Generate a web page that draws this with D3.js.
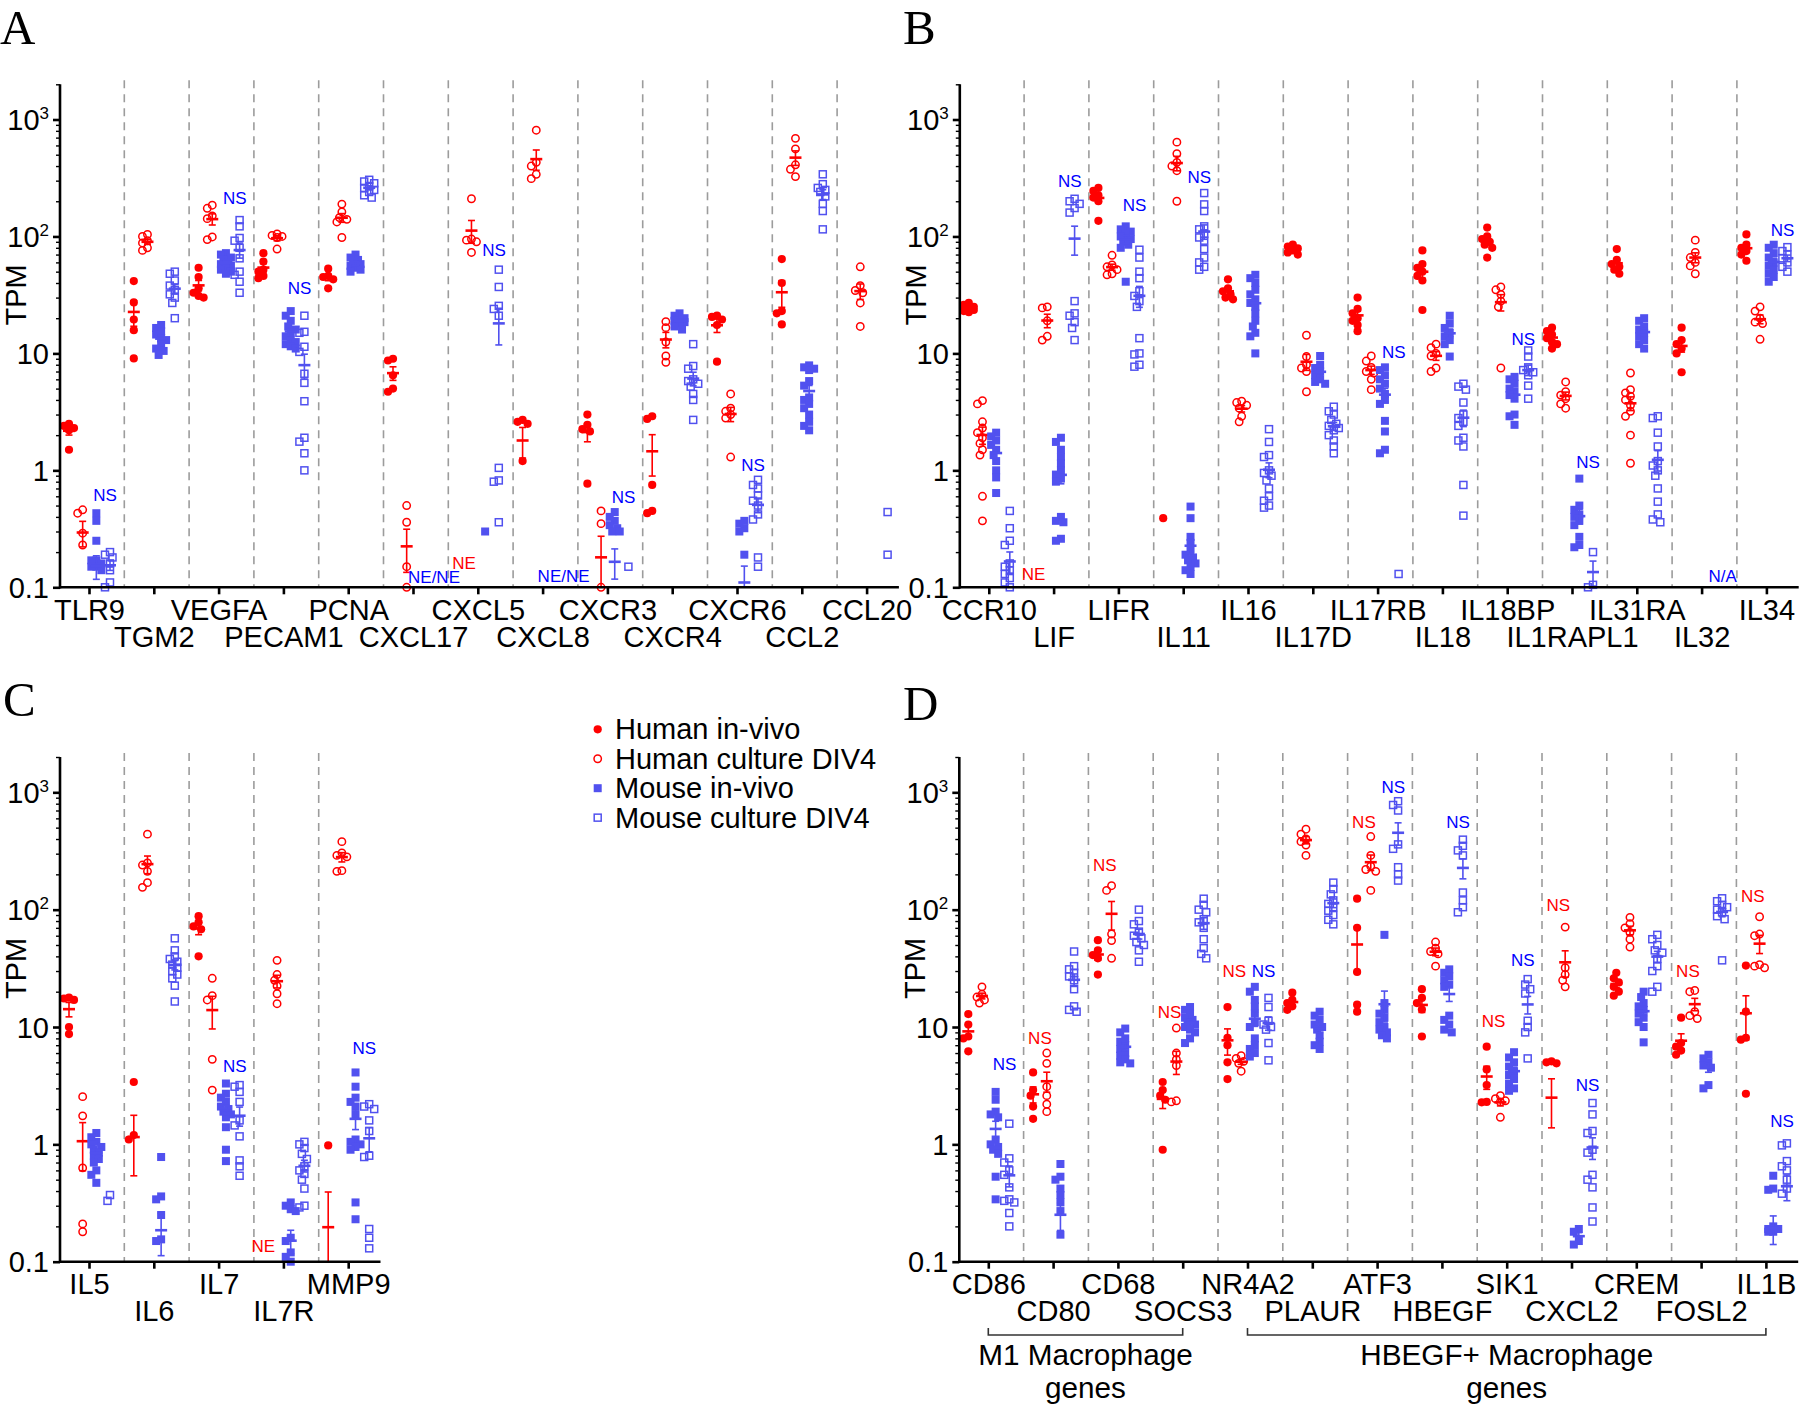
<!DOCTYPE html>
<html><head><meta charset="utf-8">
<script src="https://cdn.jsdelivr.net/npm/d3@7"></script>
<style>
body{margin:0;background:#fff}
svg{display:block}
text{font-family:"Liberation Sans",Arial,sans-serif}
</style>
</head><body>
<svg id="c" width="1800" height="1408"></svg>
<script>
// ---------------- DATA ----------------
const catsA = ["TLR9","TGM2","VEGFA","PECAM1","PCNA","CXCL17","CXCL5","CXCL8","CXCR3","CXCR4","CXCR6","CCL2","CCL20"];
const hivA = [[2.5,2.4,2.3,2.2,1.5],[41.5,27.3,19.5,15.8,9.05],[54,45,36,33,31,30],[72,61,52,50,46,44],[53,46,45,43,36],[9,8.7,6.5,5,4.7],[],[2.7,2.6,2.5,1.2,0.001],[3.0,2.45,2.25,2.15,0.77],[2.9,2.75,0.75,0.45,0.43],[21,20.5,19.5,17.5,8.5],[64,40,23,22,17.7],[]];
const hcA = [[0.46,0.43,0.29,0.23,0.06],[104,100,92,88,80,76],[185,174,150,142,99,94],[105,102,100,98,78],[189,162,145,140,133,98],[0.5,0.36,0.15,0.1,0.01],[210,95,93,90,73],[810,430,400,340,312],[0.45,0.35,0.1,0.001,0.001],[18.7,16.6,12.5,9.5,8.4],[4.5,3.4,3.2,3.0,2.8,1.3],[690,560,410,375,325],[55,38,34.5,33,27,17]];
const mivA = [[0.43,0.37,0.25,0.17,0.17,0.16,0.15,0.15,0.14,0.05,0.03,0.02,0.02,0.01],[17.5,16.5,15.5,14.5,13.5,13,12,11,10.5,9.7],[72,70,66,63,60,58,56,54,52,50,48],[23,21,19,17,16,15,14,13,12.5,12,11.5,11],[70,66,63,60,58,56,54,52,50],[],[0.3],[],[0.44,0.4,0.37,0.34,0.32,0.3,0.3,0.001,0.001,0.001,0.001,0.001,0.001,0.001,0.001],[22,21,20,19.5,19,18.5,18,17,16],[0.37,0.35,0.32,0.3,0.19,0.001,0.001,0.001,0.001,0.001,0.001,0.001,0.001,0.001],[7.9,7.6,7.4,7.2,5.8,5.3,4.2,4.0,3.7,3.4,3.0,2.6,2.4,2.2],[]];
const mcA = [[0.2,0.19,0.18,0.16,0.14,0.11,0.1],[50,48,42,38,35,32,30,27,20],[138,122,97,92,80,65,50,47,41,33],[21,15.3,15,11.4,10.3,6.7,5.6,3.9,1.9,1.76,1.4,1.0],[305,295,285,270,260,250,240,225,215],[],[52,37,25.5,24,21,1.05,0.82,0.8,0.36],[],[0.15],[12,7.8,7.4,6,5.8,5.5,5.2,4.5,4,2.7],[0.83,0.75,0.7,0.61,0.55,0.5,0.42,0.38,0.18,0.15],[340,280,260,250,240,220,190,165,115],[0.44,0.19]];
const nsA = [{cat:"TLR9",side:"mouse",at:0.61},{cat:"VEGFA",side:"mouse",at:211},{cat:"PECAM1",side:"mouse",at:36},{cat:"CXCL5",side:"mouse",at:76},{cat:"CXCR3",side:"mouse",at:0.59},{cat:"CXCR6",side:"mouse",at:1.1}];
const notesA = [{cat:"CXCL17",group:3,text:"NE/NE",side:"mouse",at:0.122},{cat:"CXCL5",group:0.45,text:"NE",side:"human",at:0.16},{cat:"CXCL8",group:3,text:"NE/NE",side:"mouse",at:0.125}];

const catsB = ["CCR10","LIF","LIFR","IL11","IL16","IL17D","IL17RB","IL18","IL18BP","IL1RAPL1","IL31RA","IL32","IL34"];
const hivB = [[27,26,25,24.5,24,23.5,23,22.5],[],[260,245,225,215,200,136],[0.39],[43,36,34,32,30,29],[85,82,79,76,73,70],[30,24,22,20,19,17.5,15.5],[76,58,54,50,46,42,23.5],[119,100,95,90,85,80,66],[16.6,15.5,14.5,13.5,12.5,12,11],[78,63,58,55,52,48],[16.6,13,12,11,10,6.9],[104,85,80,75,70,62]];
const hcB = [[3.95,3.7,2.6,2.3,2.1,1.9,1.7,1.5,1.35,0.6,0.37],[25,24.5,19,14,13],[69,57,55,52,48,47],[640,510,430,400,365,200],[3.9,3.8,3.6,3.4,2.9,2.6],[14.3,9.4,8,7.5,7,4.7],[9.5,8.6,7.6,7.0,6.8,6.0,4.9],[12,11.2,10,9.5,7.5,7],[37,35,32,28,25,7.5],[5.7,4.7,4.4,4.1,3.7,3.4],[6.8,4.9,4.6,4.3,4.0,3.6,3.2,2.9,2.0,1.15],[93,73,66,60,56,48],[25,23,20,18.5,18,13.2]];
const mivB = [[2.1,1.95,1.8,1.65,1.5,1.35,1.2,1.0,0.87,0.64],[1.9,1.75,1.5,1.3,1.15,1.0,0.92,0.85,0.8,0.4,0.37,0.36,0.26,0.25],[122,115,110,105,100,95,90,85,80,41],[0.49,0.39,0.27,0.24,0.21,0.19,0.18,0.17,0.16,0.15,0.14,0.13],[47,44,40,35,32,29,27,25,22,19,17,15,14,10],[9.5,8,7.5,7,6.5,6,5.7,5.5],[7.6,7.2,6.5,6,5.5,5,4.5,4,3.7,2.65,2.15,1.5,1.4],[21,18,16.5,15,14,13,12,9.4],[6.3,6,5.5,5,4.7,4.4,4.1,3.0,2.9,2.45],[0.85,0.5,0.46,0.42,0.4,0.37,0.34,0.27,0.23,0.22],[20,19,17,16,15,14,13,12,11],[],[85,80,72,66,60,56,52,48,45,41]];
const mcB = [[0.45,0.32,0.25,0.23,0.16,0.15,0.14,0.13,0.12,0.11,0.1,0.001,0.001],[210,200,190,175,160,28,22,21,18.5,16.5,13],[77,66,50,44,34,31,28,25,13.5,10,9.8,8,7.7],[235,188,165,122,115,105,98,92,78,66,60,55,52],[2.25,1.75,1.35,1.3,1.0,0.95,0.9,0.82,0.7,0.6,0.55,0.5,0.48],[3.5,3.2,3.0,2.7,2.5,2.4,2.3,2.2,2.0,1.8,1.6,1.4],[0.13],[5.5,5.2,4.9,3.8,3.0,2.8,2.6,2.4,1.9,1.8,1.6,0.75,0.41],[10.6,9.4,7.6,7.2,6.9,6.5,5.3,4.1],[0.2,0.105,0.1],[2.9,2.8,2.1,1.6,1.2,1.1,1.0,0.9,0.7,0.54,0.42,0.38,0.36],[],[81,75,70,65,60,55,50]];
const nsB = [{cat:"LIF",side:"mouse",at:299},{cat:"LIFR",side:"mouse",at:184},{cat:"IL11",side:"mouse",at:324},{cat:"IL17RB",side:"mouse",at:10.3},{cat:"IL18BP",side:"mouse",at:13.2},{cat:"IL1RAPL1",side:"mouse",at:1.17},{cat:"IL34",side:"mouse",at:114}];
const notesB = [{cat:"LIF",group:0,text:"NE",side:"human",at:0.13},{cat:"IL32",group:3,text:"N/A",side:"mouse",at:0.126}];

const catsC = ["IL5","IL6","IL7","IL7R","MMP9"];
const hivC = [[17.8,17.5,17,10,8.7],[3.4,1.2,1.1,0.05,0.02],[88,78,72,68,40],[],[0.98,0.001,0.001,0.001,0.001]];
const hcC = [[2.55,1.75,0.63,0.21,0.18],[440,250,240,212,170,155],[26,18.5,17,5.3,2.9],[37,28,25,22.4,19.2,15.8],[380,305,290,282,215,212]];
const mivC = [[1.25,1.15,1.05,1.0,0.95,0.9,0.85,0.8,0.75,0.7,0.6,0.55,0.47],[0.78,0.36,0.34,0.25,0.155,0.15,0.001,0.001,0.001,0.001,0.001],[3.3,2.7,2.5,2.3,2.1,2.0,1.9,1.8,1.7,1.4,0.9,0.72],[0.32,0.3,0.28,0.27,0.16,0.15,0.12,0.11,0.1,0.001,0.001,0.001],[4.1,3.1,2.5,2.3,2.1,1.8,1.1,1.05,1.0,0.95,0.9,0.32,0.23]];
const mcC = [[0.37,0.33],[57,45,40,38,36,34,32,30,28,26,22.5,16.5],[3.2,3.1,2.8,2.3,1.6,1.45,1.17,0.73,0.65,0.54],[1.05,1.0,0.93,0.83,0.75,0.65,0.6,0.56,0.5,0.42,0.3,0.29],[2.2,2.1,2.0,1.6,1.3,0.8,0.78,0.19,0.16,0.13]];
const nsC = [{cat:"IL7",side:"mouse",at:4.67},{cat:"MMP9",side:"mouse",at:6.6}];
const notesC = [{cat:"IL7R",group:0,text:"NE",side:"human",at:0.135}];

const catsD = ["CD86","CD80","CD68","SOCS3","NR4A2","PLAUR","ATF3","HBEGF","SIK1","CXCL2","CREM","FOSL2","IL1B"];
const hivD = [[12.9,10.5,8.3,8.0,6.2],[4.1,2.9,2.6,2.1,1.65],[55,45,41,38.5,28],[3.4,2.9,2.6,2.4,0.9],[14.8,8.1,7,5,3.6],[19.6,17,16,15,14],[124,70,29.5,15.5,13.5],[21,17.7,16,14.1,8.3],[6.8,4.35,3.2,2.3,2.28],[5.1,5.0,4.9,0.001,0.001,0.001],[29,26,24,22,20,18.5],[12,7.3,6.8,6.3,5.8],[33.4,13.5,8.1,7.8,2.7]];
const hcD = [[22,19,18,17,16],[6,4.9,3.1,2.6,2.2,1.9],[160,146,62,54.5,38.5],[9.8,6.0,5.3,4.7,2.35,2.3],[5.7,5.4,5.1,4.9,4.2],[485,440,400,380,355,290],[420,290,235,220,212,146],[53,47,44,42,33],[2.6,2.45,2.35,2.3,1.7],[71,32,28,25,22],[86,76,70,64,56,48],[20.5,20,13.5,12.5,11.8],[87,62,60,34,33,32]];
const mivD = [[2.8,2.4,1.9,1.8,1.7,1.1,1.0,0.95,0.9,0.83,0.53,0.34],[0.68,0.53,0.5,0.42,0.37,0.32,0.27,0.17,0.001,0.001,0.001,0.001,0.001],[9.7,9,8,7.5,7,6.5,6,5.7,5.3,5,4.9],[14.8,14,13,12,11.5,11,10.5,10,9.5,9,8,7.3],[22,20,17,15,13,11,10,8,7,6.5,6,5.6],[13.5,12.5,11.5,10.5,10,9.5,8.5,7.5,7,6.5],[61,16,14,13,12,11,10,9.5,9,8.5,8],[31,29,27,25,23,22,12.5,11.5,10.5,9.5,9],[6.1,5.5,5,4.6,4.2,3.9,3.6,3.3,3.0,2.86],[0.19,0.18,0.15,0.14],[20,18,16,15,14,13,12,11,10,7.4],[5.8,5.4,5.0,4.7,4.5,3.2,3.0],[0.54,0.42,0.41,0.2,0.19,0.19,0.18,0.18,0.001,0.001,0.001,0.001]];
const mcD = [[1.5,0.76,0.7,0.6,0.55,0.43,0.34,0.33,0.32,0.26,0.2],[44,33,31,29,27,25,21,15,14,13.5],[100,80,75,65,60,57,53,50,45,36],[124,110,100,95,83,78,70,56,47,42,38.5],[17.7,14.8,11.3,10.5,10,9.5,7.3,5.2],[170,150,135,120,112,105,98,90,82,75],[840,780,700,360,330,230,200,177],[395,350,320,290,140,120,105,95],[25.6,23,21,19.3,11.3,10,9,5.4],[2.25,1.8,1.3,1.25,0.9,0.85,0.55,0.5,0.43,0.29,0.22],[61,56,50,45,43,38,33,30,22,20],[125,118,110,105,100,95,88,83,37],[1.02,0.98,0.72,0.65,0.6,0.5,0.42,0.38,0.001,0.001,0.001,0.001]];
const nsD = [{cat:"CD86",side:"mouse",at:4.8},{cat:"CD80",side:"human",at:8.1},{cat:"CD68",side:"human",at:242},{cat:"SOCS3",side:"human",at:13.3},{cat:"NR4A2",side:"human",at:30},{cat:"NR4A2",side:"mouse",at:30},{cat:"ATF3",side:"human",at:562},{cat:"ATF3",side:"mouse",at:1100},{cat:"HBEGF",side:"mouse",at:562},{cat:"SIK1",side:"human",at:11.3},{cat:"SIK1",side:"mouse",at:37.5},{cat:"CXCL2",side:"human",at:109},{cat:"CXCL2",side:"mouse",at:3.18},{cat:"FOSL2",side:"human",at:30},{cat:"IL1B",side:"human",at:130},{cat:"IL1B",side:"mouse",at:1.58}];
const bracketsD = [{from:"CD86",to:"SOCS3",label:["M1 Macrophage","genes"]},{from:"NR4A2",to:"IL1B",label:["HBEGF+ Macrophage","genes"]}];

const groupNames = ["Human in-vivo","Human culture DIV4","Mouse in-vivo","Mouse culture DIV4"];
const majorTicks = [0.1,1,10,100,1000];
const minorTicks = [0.2,0.3,0.4,0.5,0.6,0.7,0.8,0.9,2,3,4,5,6,7,8,9,20,30,40,50,60,70,80,90,200,300,400,500,600,700,800,900,2000];

// ---------------- DRAWING ----------------
const RED = "#ff0000", MOUSE = "#5151ef", NSBLUE = "#0000ff";
const FONT = 29;
const W = 64.8;
const styles = [
  {color:RED, shape:"circle", filled:true},
  {color:RED, shape:"circle", filled:false},
  {color:MOUSE, shape:"square", filled:true},
  {color:MOUSE, shape:"square", filled:false}
];
const svg = d3.select("#c");
const gOff = d3.scaleLinear().domain([0,3]).range([9.5,50.5]);

function mark(sel, st, x, y){
  if(st.shape==="circle"){
    const r = st.filled?4.1:3.7;
    sel.append("circle").attr("cx",x).attr("cy",y).attr("r",r)
      .attr("fill",st.filled?st.color:"none").attr("stroke",st.filled?"none":st.color).attr("stroke-width",1.5);
  } else {
    const s = st.filled?8:7;
    sel.append("rect").attr("x",x-s/2).attr("y",y-s/2).attr("width",s).attr("height",s)
      .attr("fill",st.filled?st.color:"none").attr("stroke",st.filled?"none":st.color).attr("stroke-width",1.5);
  }
}

function dodge(vals, y){
  const pts = vals.filter(v=>v>=0.1).map(v=>({v, py:y(v)})).sort((a,b)=>a.py-b.py);
  const placed=[]; const offs=[0,-2.5,2.5,-5,5];
  pts.forEach(p=>{
    let best=0, bestScore=Infinity;
    for(const o of offs){
      let s=0;
      for(const q of placed){const d=Math.hypot(o-q.dx,p.py-q.py); if(d<6) s+=6-d;}
      s += Math.abs(o)*0.05;
      if(s<bestScore-1e-9){bestScore=s;best=o;}
    }
    p.dx=best; placed.push(p);
  });
  return pts;
}

function drawPanel(p){
  const n = p.cats.length;
  const xb = d3.scaleBand().domain(p.cats).range([p.x0, p.x0+n*W]).padding(0);
  const xt = d3.scalePoint().domain(p.cats).range([p.x0+29.5, p.x0+29.5+(n-1)*W]);
  const y = d3.scaleLog().domain([0.1,2000]).range([p.yBot,p.yTop]);
  const g = svg.append("g");

  // separators
  g.selectAll("line.sep").data(p.cats.slice(1)).join("line")
    .attr("x1",c=>xb(c)).attr("x2",c=>xb(c)).attr("y1",p.yTop-4).attr("y2",p.yBot)
    .attr("stroke","#9c9c9c").attr("stroke-width",1.6).attr("stroke-dasharray","8,6");

  // points + mean/sem
  p.data.forEach((series,gi)=>{
    const st = styles[gi];
    series.forEach((vals,ci)=>{
      const cx = xb(p.cats[ci]) + gOff(gi);
      const pg = g.append("g");
      dodge(vals,y).forEach(pt=>mark(pg,st,cx+pt.dx,pt.py));
      if(vals.length>2){
        const m = d3.mean(vals), sem = d3.deviation(vals)/Math.sqrt(vals.length);
        const hi = m+sem, lo = m-sem;
        if(hi>=0.1){
          const yHi = y(Math.min(hi,2000)), yLo = y(Math.max(lo,0.1));
          pg.append("line").attr("x1",cx).attr("x2",cx).attr("y1",yHi).attr("y2",yLo).attr("stroke",st.color).attr("stroke-width",1.6);
          pg.append("line").attr("x1",cx-3.5).attr("x2",cx+3.5).attr("y1",yHi).attr("y2",yHi).attr("stroke",st.color).attr("stroke-width",1.6);
          if(lo>=0.1) pg.append("line").attr("x1",cx-3.5).attr("x2",cx+3.5).attr("y1",yLo).attr("y2",yLo).attr("stroke",st.color).attr("stroke-width",1.6);
          if(m>=0.1) pg.append("line").attr("x1",cx-6).attr("x2",cx+6).attr("y1",y(m)).attr("y2",y(m)).attr("stroke",st.color).attr("stroke-width",2.6);
        }
      }
    });
  });

  // NS labels
  p.ns.forEach(a=>{
    const x = xb(a.cat) + (a.side==="mouse" ? (gOff(2)+gOff(3))/2+2 : (gOff(0)+gOff(1))/2);
    g.append("text").attr("x",x).attr("y",y(a.at)).attr("dy","0.35em").attr("text-anchor","middle")
      .attr("font-size",17).attr("fill",a.side==="mouse"?NSBLUE:RED).text("NS");
  });
  (p.notes||[]).forEach(a=>{
    g.append("text").attr("x",xb(a.cat)+gOff(a.group)).attr("y",y(a.at)).attr("dy","0.35em").attr("text-anchor","middle")
      .attr("font-size",17).attr("fill",a.side==="mouse"?NSBLUE:RED).text(a.text);
  });

  // y axis
  const ax0 = p.x0+0.5;
  const yMinor = g.append("g").attr("transform",`translate(${ax0},0)`)
    .call(d3.axisLeft(y).tickValues(minorTicks).tickSize(4).tickFormat(""));
  yMinor.select(".domain").remove();
  yMinor.selectAll(".tick line").attr("stroke","#000").attr("stroke-width",1.4);
  const yMajor = g.append("g").attr("transform",`translate(${ax0},0)`)
    .call(d3.axisLeft(y).tickValues(majorTicks).tickSize(7).tickPadding(4).tickFormat(""));
  yMajor.select(".domain").remove();
  yMajor.attr("font-size",null).attr("font-family",null);
  yMajor.selectAll(".tick line").attr("stroke","#000").attr("stroke-width",2.6);
  yMajor.selectAll(".tick text").attr("font-size",FONT).attr("fill","#000").attr("dy","0.35em").each(function(d){
    const t = d3.select(this); t.text(null);
    if(d>=100){
      t.append("tspan").text("10");
      t.append("tspan").attr("dy",-11).attr("font-size",17).text(d===100?"2":"3");
    } else t.text(d===0.1?"0.1":String(d));
  });
  g.append("line").attr("x1",ax0).attr("x2",ax0).attr("y1",p.yTop).attr("y2",p.yBot+1.3).attr("stroke","#000").attr("stroke-width",2.6);

  // x axis
  const xAx = g.append("g").attr("transform",`translate(0,${p.yBot})`)
    .call(d3.axisBottom(xt).tickSize(7).tickSizeOuter(0));
  xAx.select(".domain").remove();
  xAx.attr("font-size",null).attr("font-family",null);
  xAx.selectAll(".tick line").attr("stroke","#000").attr("stroke-width",2.6);
  xAx.selectAll(".tick text").attr("font-size",FONT).attr("fill","#000").attr("dy",0)
    .attr("y",(d,i)=> i%2 ? 59.7 : 32.7);
  g.append("line").attr("x1",p.x0).attr("x2",p.x0+n*W-3).attr("y1",p.yBot).attr("y2",p.yBot).attr("stroke","#000").attr("stroke-width",2.6);

  // TPM label
  g.append("text").attr("transform",`translate(${p.x0-43.5},${y(Math.pow(10,1.5))}) rotate(-90)`)
    .attr("text-anchor","middle").attr("dy","0.35em").attr("font-size",FONT).text("TPM");

  // panel letter
  svg.append("text").attr("x",p.lx).attr("y",p.ly)
    .style("font-family","'Liberation Serif','Times New Roman',serif").attr("font-size",49).text(p.letter);

  // brackets
  (p.brackets||[]).forEach(b=>{
    const x1 = xt(b.from), x2 = xt(b.to), yb = p.yBot+73.3;
    g.append("path").attr("d",`M${x1},${yb-7}V${yb}H${x2}V${yb-7}`).attr("fill","none").attr("stroke","#333").attr("stroke-width",1.6);
    g.append("text").attr("x",(x1+x2)/2).attr("y",p.yBot+103.3).attr("text-anchor","middle").attr("font-size",29.7).text(b.label[0]);
    g.append("text").attr("x",(x1+x2)/2).attr("y",p.yBot+136.6).attr("text-anchor","middle").attr("font-size",29.7).text(b.label[1]);
  });
}

const panels = [
  {letter:"A", lx:0, ly:43.8, cats:catsA, data:[hivA,hcA,mivA,mcA], ns:nsA, notes:notesA, x0:59.5, yTop:84.3, yBot:587.3},
  {letter:"B", lx:903, ly:43.8, cats:catsB, data:[hivB,hcB,mivB,mcB], ns:nsB, notes:notesB, x0:959.3, yTop:84.3, yBot:587.3},
  {letter:"C", lx:3, ly:716, cats:catsC, data:[hivC,hcC,mivC,mcC], ns:nsC, notes:notesC, x0:59.5, yTop:757, yBot:1261.7},
  {letter:"D", lx:903, ly:720, cats:catsD, data:[hivD,hcD,mivD,mcD], ns:nsD, notes:[], brackets:bracketsD, x0:958.8, yTop:757, yBot:1261.7}
];
panels.forEach(drawPanel);

// legend
const lg = svg.append("g");
groupNames.forEach((name,i)=>{
  const yy = 729.3 + i*29.45;
  mark(lg, styles[i], 597.7, yy);
  lg.append("text").attr("x",615).attr("y",yy).attr("dy","0.35em").attr("font-size",29).text(name);
});
</script>
</body></html>
